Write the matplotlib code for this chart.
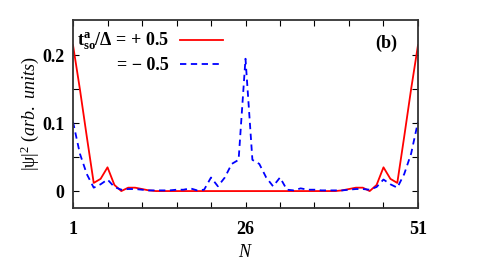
#!usr/bin/env python3

import numpy as np
import matplotlib
matplotlib.use("Agg")
import matplotlib.pyplot as plt

# site index
N = np.arange(1, 52)

# |psi|^2 for t_so^a/Delta = +0.5 (red), left half N=1..26, mirrored
red_half = [0.215, 0.15, 0.08, 0.012, 0.018, 0.035, 0.009, 0.0, 0.005, 0.005,
            0.003, 0.001, 0.0, 0.0, 0.0, 0.0, 0.0, 0.0, 0.0, 0.0,
            0.0, 0.0, 0.0, 0.0, 0.0, 0.0]
# |psi|^2 for t_so^a/Delta = -0.5 (blue), left half N=1..26, mirrored
blue_half = [0.102, 0.055, 0.025, 0.005, 0.01, 0.017, 0.006, 0.002, 0.003, 0.003,
             0.002, 0.001, 0.001, 0.001, 0.001, 0.002, 0.002, 0.004, 0.001, 0.002,
             0.02, 0.007, 0.02, 0.04, 0.046, 0.195]

red = red_half + red_half[-2::-1]
blue = blue_half + blue_half[-2::-1]

x_ticks = list(range(1, 52, 5))
x_labels = {1: "1", 26: "26", 51: "51"}
y_ticks = [0, 0.05, 0.1, 0.15, 0.2]
y_labels = {0: "0", 0.1: "0.1", 0.2: "0.2"}

plt.rcParams['font.family'] = ['Liberation Serif', 'DejaVu Serif']
plt.rcParams['mathtext.fontset'] = 'custom'
plt.rcParams['mathtext.rm'] = 'Liberation Serif'
plt.rcParams['mathtext.it'] = 'Liberation Serif:italic'
plt.rcParams['mathtext.bf'] = 'Liberation Serif:bold'

fig = plt.figure(figsize=(4.91, 2.64), dpi=100)
ax = fig.add_axes([0.1487, 0.212, 0.7026, 0.712])

ax.plot(N, red, color="#ff0000", lw=1.3,
        label=r"$\mathbf{t^{a}_{so}}$/Δ = + 0.5")
ax.plot(N, blue, color="#0000ff", lw=1.3, ls=(0, (3.5, 2.5)),
        label="= − 0.5")

ax.set_xlim(1, 51)
ax.set_ylim(-0.025, 0.252)

ax.set_xticks(x_ticks)
ax.set_xticklabels([x_labels.get(t, "") for t in x_ticks])
ax.set_yticks(y_ticks)
ax.set_yticklabels([y_labels.get(t, "") for t in y_ticks])
ax.tick_params(direction="in", top=True, right=True, length=4, width=0.8,
               labelsize=13)
ax.tick_params(axis="x", pad=9)
ax.tick_params(axis="y", pad=6)
for lab in ax.get_xticklabels() + ax.get_yticklabels():
    lab.set_fontweight("bold")
for sp in ax.spines.values():
    sp.set_linewidth(1.3)
    sp.set_color("#333333")

ax.set_xlabel(r"$N$", fontsize=13, labelpad=5)
ax.set_ylabel(r"|ψ|$^2$ $(arb.\ units)$", fontsize=13, labelpad=1)

ax.text(0.939, 0.83, "(b)", transform=ax.transAxes, ha="right", va="bottom",
        fontsize=13, fontweight="bold")

ax.legend(loc="upper left", frameon=False, markerfirst=False,
          prop={"size": 13, "weight": "bold"}, handlelength=2.4,
          borderaxespad=0.1, labelspacing=0.25, handletextpad=0.6,
          bbox_to_anchor=(-0.015, 0.99))

fig.savefig("out.png", dpi=100)
